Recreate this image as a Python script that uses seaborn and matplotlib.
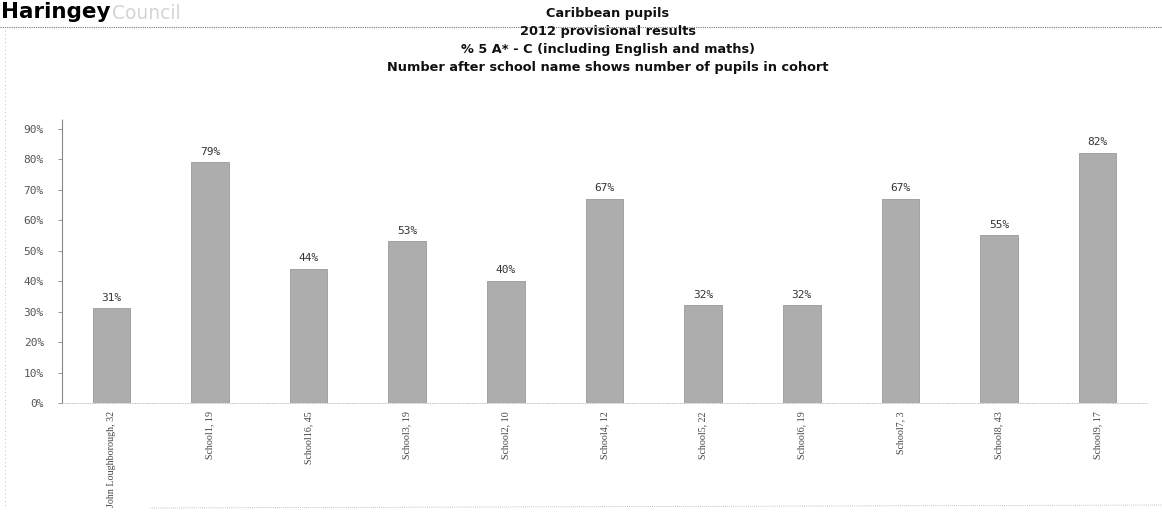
import matplotlib
matplotlib.use("Agg")
import matplotlib.pyplot as plt
from matplotlib.lines import Line2D
from matplotlib.ticker import FuncFormatter
import seaborn as sns
import pandas as pd

# Schools (number after the name = pupils in cohort) and % achieving 5 A*-C incl. English and maths
schools = [
    "John Loughborough, 32", "School1, 19", "School16, 45", "School3, 19",
    "School2, 10", "School4, 12", "School5, 22", "School6, 19",
    "School7, 3", "School8, 43", "School9, 17",
]
pct = [31, 79, 44, 53, 40, 67, 32, 32, 67, 55, 82]
y_ticks = [0, 10, 20, 30, 40, 50, 60, 70, 80, 90]

title_lines = [
    "Caribbean pupils",
    "2012 provisional results",
    "% 5 A* - C (including English and maths)",
    "Number after school name shows number of pupils in cohort",
]

df = pd.DataFrame({"school": schools, "pct": pct})

sns.set_theme(style="white")
plt.rcParams["font.family"] = ["DejaVu Sans"]

W, H = 1162, 516
fig = plt.figure(figsize=(W / 100, H / 100), dpi=100)
fig.patch.set_facecolor("white")

ax_left, ax_right = 62, 1147
ax_bottom, ax_top = 403, 119.4
ax = fig.add_axes([ax_left / W, (H - ax_bottom) / H,
                   (ax_right - ax_left) / W, (ax_bottom - ax_top) / H])

sns.barplot(data=df, x="school", y="pct", order=schools, color="#adadad",
            saturation=1, width=0.38, ax=ax, edgecolor="#9a9a9a", linewidth=0.6)

ax.set_xlim(-0.5, len(schools) - 0.5)
ax.set_ylim(0, 93)
ax.set_yticks(y_ticks)
ax.yaxis.set_major_formatter(FuncFormatter(lambda v, _: f"{int(v)}%"))
ax.set_xlabel("")
ax.set_ylabel("")

for lbl in ax.get_yticklabels():
    lbl.set_fontsize(8)
    lbl.set_color("#555555")
    lbl.set_family("DejaVu Sans Mono")
ax.tick_params(axis="y", length=3, width=0.6, color="#888888", pad=10, left=True)
ax.tick_params(axis="x", length=0, pad=6)

ax.set_xticks(range(len(schools)))
ax.set_xticklabels(schools, rotation=90, fontsize=7.2, color="#444444",
                   family="Liberation Serif", va="top", ha="center")

for lbl_container in ax.containers:
    ax.bar_label(lbl_container, labels=[f"{v}%" for v in pct], padding=4,
                 fontsize=8, color="#333333", family="DejaVu Sans Mono")

for side in ("top", "right"):
    ax.spines[side].set_visible(False)
ax.spines["left"].set_linestyle((0, (1, 1)))
ax.spines["left"].set_color("#888888")
ax.spines["left"].set_linewidth(0.8)
ax.spines["bottom"].set_linestyle((0, (1, 2)))
ax.spines["bottom"].set_color("#bbbbbb")
ax.spines["bottom"].set_linewidth(0.6)
ax.set_facecolor("white")

# Chart title block
ty = [13, 31, 49, 67]
for line, y in zip(title_lines, ty):
    fig.text(608 / W, 1 - y / H, line, ha="center", va="center",
             fontsize=9.3, fontweight="bold", color="#111111")

# Council header
fig.text(1 / W, 1 - 2 / H, "Haringey", ha="left", va="top",
         fontsize=15.5, fontweight="heavy", color="#000000")
fig.text(112 / W, 1 - 4 / H, "Council", ha="left", va="top",
         fontsize=13.5, color="#d4d4d4")

# Dotted frame lines around the chart area
fig.add_artist(Line2D([0, 1], [1 - 27 / H, 1 - 27 / H], transform=fig.transFigure,
                      color="#777777", lw=0.8, ls=(0, (1, 1))))
fig.add_artist(Line2D([5 / W, 5 / W], [1 - 30 / H, 1 - 508 / H], transform=fig.transFigure,
                      color="#bbbbbb", lw=0.7, ls=(0, (1, 3))))
fig.add_artist(Line2D([150 / W, 1], [1 - 508 / H, 1 - 505 / H], transform=fig.transFigure,
                      color="#aaaaaa", lw=0.6, ls=(0, (1, 1.5))))

fig.savefig("out.png", dpi=100, facecolor="white")
